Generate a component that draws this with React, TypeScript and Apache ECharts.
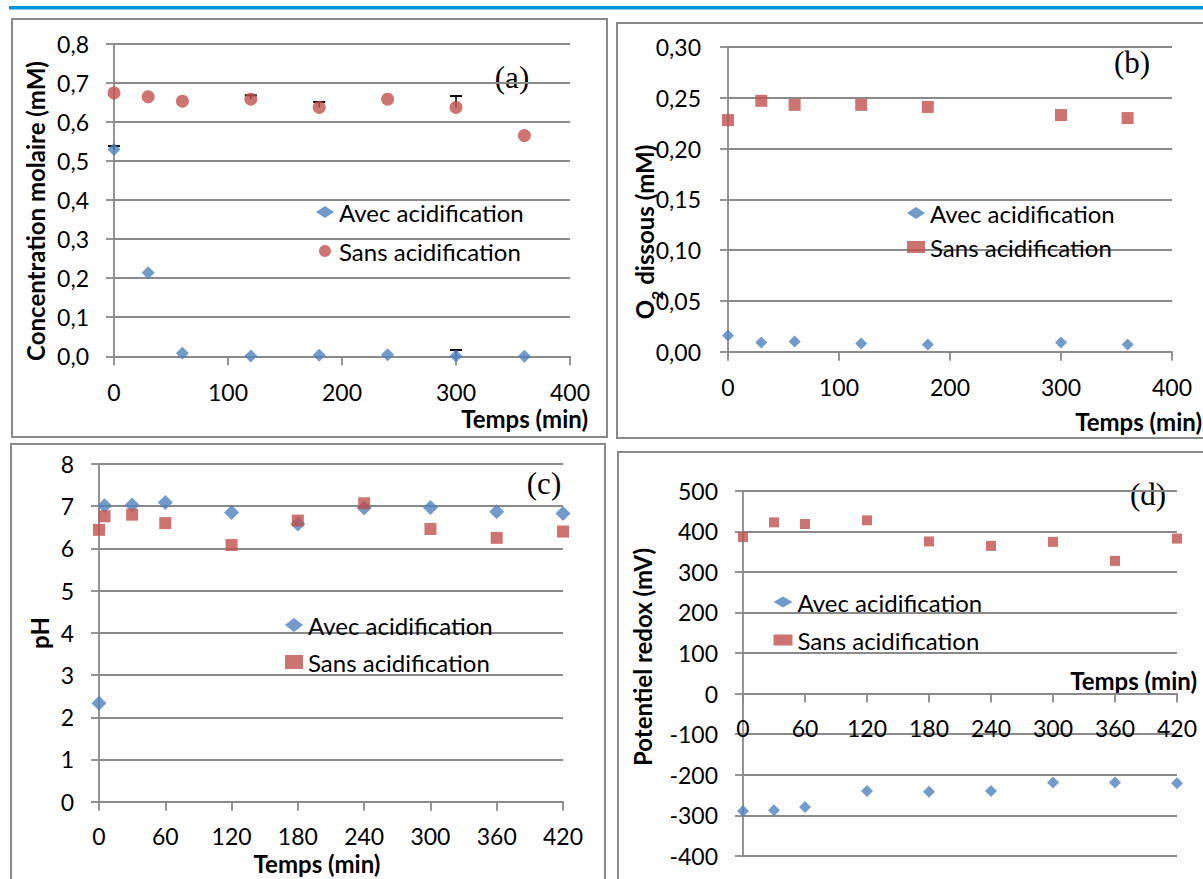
import React, { useEffect, useRef } from "react";
import * as echarts from "echarts";

// ---- Data ----
const timesA = [0, 30, 60, 120, 180, 240, 300, 360];
const avecA = [0.529, 0.214, 0.008, 0.001, 0.003, 0.004, 0.001, 0.0];
const sansA = [0.674, 0.664, 0.653, 0.658, 0.637, 0.658, 0.637, 0.565];
const errAvecA = [0.009, 0, 0, 0, 0, 0, 0.015, 0];
const errSansA = [0, 0, 0, 0.01, 0.014, 0, 0.029, 0];

const timesB = [0, 30, 60, 120, 180, 300, 360];
const avecB = [0.016, 0.009, 0.01, 0.008, 0.007, 0.009, 0.007];
const sansB = [0.228, 0.247, 0.243, 0.243, 0.241, 0.233, 0.23];

const timesC = [0, 5, 30, 60, 120, 180, 240, 300, 360, 420];
const avecC = [2.33, 7.01, 7.03, 7.09, 6.85, 6.58, 6.96, 6.97, 6.87, 6.83];
const sansC = [6.44, 6.76, 6.8, 6.6, 6.08, 6.66, 7.07, 6.46, 6.25, 6.4];

const timesD = [0, 30, 60, 120, 180, 240, 300, 360, 420];
const avecD = [-289, -287, -279, -240, -242, -240, -219, -219, -221];
const sansD = [386, 422, 418, 427, 375, 364, 374, 327, 382];

const AVEC = "Avec acidification";
const SANS = "Sans acidification";
const BLUE = "#4F81BD";
const RED = "#C0504D";
const GRAY = "#8a8a8a";
const FONT = "Lato";

const pairs = (xs: number[], ys: number[]) => xs.map((x, i) => [x, ys[i]]);
const errTriples = (xs: number[], ys: number[], es: number[]) =>
  xs.map((x, i) => [x, ys[i], es[i]]).filter((d) => d[2] > 0);

const comma = (d: number) => (v: number) => v.toFixed(d).replace(".", ",");

function makeAxes(
  gi: number,
  x: [number, number, number],
  y: [number, number, number],
  yfmt: (v: number) => string,
  xMargin: number,
  yMargin: number,
  xOffset = 0
) {
  const line = { color: GRAY, width: 1.8 };
  const xAxis = {
    gridIndex: gi,
    type: "value",
    position: "bottom",
    offset: xOffset,
    min: x[0],
    max: x[1],
    interval: x[2],
    axisLine: { show: true, onZero: false, lineStyle: line },
    axisTick: { show: true, inside: false, length: 9, lineStyle: line },
    splitLine: { show: false },
    axisLabel: { margin: xMargin, fontSize: 23, color: "#000", fontFamily: FONT },
  };
  const yAxis = {
    gridIndex: gi,
    type: "value",
    min: y[0],
    max: y[1],
    interval: y[2],
    axisLine: { show: true, onZero: false, lineStyle: line },
    axisTick: { show: true, inside: false, length: 8, lineStyle: line },
    splitLine: { show: true, lineStyle: line },
    axisLabel: { margin: yMargin, fontSize: 23, color: "#000", fontFamily: FONT, formatter: yfmt },
  };
  return { xAxis, yAxis };
}

const errRender = (params: any, api: any) => {
  const x = api.value(0);
  const y = api.value(1);
  const e = api.value(2);
  const p0 = api.coord([x, y]);
  const p1 = api.coord([x, y + e]);
  return {
    type: "group",
    children: [
      {
        type: "line",
        shape: { x1: p0[0], y1: p0[1], x2: p1[0], y2: p1[1] },
        style: { stroke: "#000", lineWidth: 1.5 },
      },
      {
        type: "line",
        shape: { x1: p1[0] - 6, y1: p1[1], x2: p1[0] + 6, y2: p1[1] },
        style: { stroke: "#000", lineWidth: 2 },
      },
    ],
  };
};

function legendFor(left: number, top: number, sansIcon: string, ih: number, iw: number, gap: number) {
  return {
    orient: "vertical",
    left,
    top,
    padding: 0,
    itemWidth: iw,
    itemHeight: ih,
    itemGap: gap,
    selectedMode: false,
    textStyle: { fontSize: 24, color: "#000", fontFamily: FONT },
    data: [
      { name: AVEC, icon: "diamond" },
      { name: SANS, icon: sansIcon },
    ],
  };
}

function axisTitle(x: number, y: number, text: string, rotate: boolean, align = "center") {
  return {
    type: "text",
    x,
    y,
    rotation: rotate ? Math.PI / 2 : 0,
    silent: true,
    style: {
      text,
      fontFamily: FONT,
      fontWeight: "bold",
      fontSize: 24,
      fill: "#000",
      align,
      verticalAlign: "middle",
    },
  };
}

function panelLabel(x: number, y: number, text: string) {
  return {
    type: "text",
    x,
    y,
    silent: true,
    style: {
      text,
      fontFamily: "Liberation Serif",
      fontSize: 31,
      fill: "#000",
      align: "center",
      verticalAlign: "middle",
    },
  };
}

function border(x: number, y: number, w: number, h: number) {
  return {
    type: "rect",
    silent: true,
    shape: { x, y, width: w, height: h },
    style: { fill: "none", stroke: GRAY, lineWidth: 2 },
  };
}

export default function App() {
  const ref = useRef<HTMLDivElement>(null);

  useEffect(() => {
    if (!ref.current) return;
    const chart = echarts.init(ref.current, null, { renderer: "svg" });

    const a = makeAxes(0, [0, 400, 100], [0, 0.8, 0.1], comma(1), 24, 25);
    const b = makeAxes(1, [0, 400, 100], [0, 0.3, 0.05], comma(2), 24, 27);
    const c = makeAxes(2, [0, 420, 60], [0, 8, 1], (v: number) => String(v), 23, 25);
    // panel (d): x axis crosses at y = 0 (400 of 900 units above the bottom)
    const d = makeAxes(3, [0, 420, 60], [-400, 500, 100], (v: number) => String(v), 23, 25, -162.4);

    const option: any = {
      animation: false,
      backgroundColor: "#fff",
      textStyle: { fontFamily: FONT },
      grid: [
        { left: 114, top: 43.7, width: 456, height: 312.6 },
        { left: 728, top: 47, width: 444, height: 304.7 },
        { left: 99, top: 464, width: 464, height: 337.7 },
        { left: 743, top: 490.7, width: 434, height: 365.3 },
      ],
      xAxis: [a.xAxis, b.xAxis, c.xAxis, d.xAxis],
      yAxis: [a.yAxis, b.yAxis, c.yAxis, d.yAxis],
      legend: [
        legendFor(316, 200, "circle", 12, 18, 15),
        legendFor(907, 201, "rect", 12, 18, 10),
        legendFor(285, 613, "rect", 14, 18, 13),
        legendFor(773.5, 590, "rect", 11, 19, 14),
      ],
      series: [
        {
          name: "Erreur avec (a)",
          type: "custom",
          xAxisIndex: 0,
          yAxisIndex: 0,
          z: 1,
          renderItem: errRender,
          encode: { x: 0, y: 1 },
          data: errTriples(timesA, avecA, errAvecA),
        },
        {
          name: "Erreur sans (a)",
          type: "custom",
          xAxisIndex: 0,
          yAxisIndex: 0,
          z: 1,
          renderItem: errRender,
          encode: { x: 0, y: 1 },
          data: errTriples(timesA, sansA, errSansA),
        },
        { name: AVEC, type: "scatter", xAxisIndex: 0, yAxisIndex: 0, z: 2, symbol: "diamond", symbolSize: 13, itemStyle: { color: BLUE }, data: pairs(timesA, avecA) },
        { name: SANS, type: "scatter", xAxisIndex: 0, yAxisIndex: 0, z: 2, symbol: "circle", symbolSize: 13, itemStyle: { color: RED }, data: pairs(timesA, sansA) },
        { name: AVEC, type: "scatter", xAxisIndex: 1, yAxisIndex: 1, z: 2, symbol: "diamond", symbolSize: 12, itemStyle: { color: BLUE }, data: pairs(timesB, avecB) },
        { name: SANS, type: "scatter", xAxisIndex: 1, yAxisIndex: 1, z: 2, symbol: "rect", symbolSize: 12, itemStyle: { color: RED }, data: pairs(timesB, sansB) },
        { name: AVEC, type: "scatter", xAxisIndex: 2, yAxisIndex: 2, z: 2, symbol: "diamond", symbolSize: 15, itemStyle: { color: BLUE }, data: pairs(timesC, avecC) },
        { name: SANS, type: "scatter", xAxisIndex: 2, yAxisIndex: 2, z: 2, symbol: "rect", symbolSize: 12, itemStyle: { color: RED }, data: pairs(timesC, sansC) },
        { name: AVEC, type: "scatter", xAxisIndex: 3, yAxisIndex: 3, z: 2, symbol: "diamond", symbolSize: 12, itemStyle: { color: BLUE }, data: pairs(timesD, avecD) },
        { name: SANS, type: "scatter", xAxisIndex: 3, yAxisIndex: 3, z: 2, symbol: "rect", symbolSize: 10, itemStyle: { color: RED }, data: pairs(timesD, sansD) },
      ],
      graphic: {
        elements: [
          { type: "rect", silent: true, shape: { x: 9, y: 6, width: 1194, height: 3.5 }, style: { fill: "#0096DB" } },
          border(12, 19, 595, 418),
          border(617, 23, 600, 415),
          border(11, 444, 594, 450),
          border(618, 452, 600, 450),
          axisTitle(35, 211, "Concentration molaire (mM)", true),
          {
            type: "text",
            x: 644,
            y: 232,
            rotation: Math.PI / 2,
            silent: true,
            style: {
              text: "{n|O}{s|2}{n| dissous (mM)}",
              fill: "#000",
              align: "center",
              verticalAlign: "middle",
              rich: {
                n: { fontFamily: FONT, fontWeight: "bold", fontSize: 24, fill: "#000", verticalAlign: "middle", lineHeight: 26 },
                s: { fontFamily: FONT, fontWeight: "bold", fontSize: 16, fill: "#000", verticalAlign: "middle", lineHeight: 16, padding: [24, 0, 0, 0] },
              },
            },
          },
          axisTitle(39, 633, "pH", true),
          axisTitle(642, 657, "Potentiel redox (mV)", true),
          axisTitle(588, 418, "Temps (min)", false, "right"),
          axisTitle(1202, 421, "Temps (min)", false, "right"),
          axisTitle(317, 863, "Temps (min)", false),
          axisTitle(1197, 680, "Temps (min)", false, "right"),
          panelLabel(512, 77, "(a)"),
          panelLabel(1132, 62, "(b)"),
          panelLabel(544, 483, "(c)"),
          panelLabel(1148, 494, "(d)"),
        ],
      },
    };

    chart.setOption(option);
    return () => chart.dispose();
  }, []);

  return (
    <div
      ref={ref}
      style={{ position: "absolute", left: 0, top: 0, width: 1203, height: 879 }}
    />
  );
}
